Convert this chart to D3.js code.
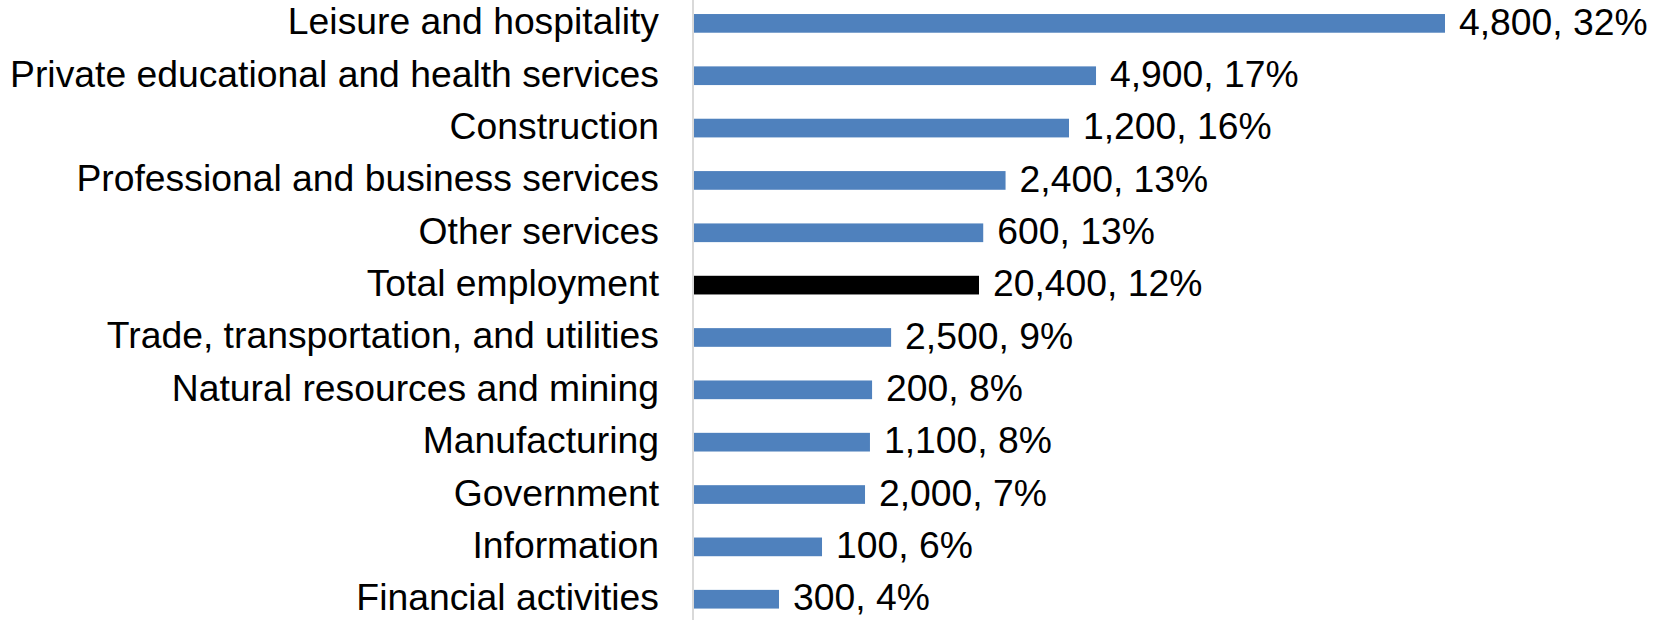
<!DOCTYPE html>
<html>
<head>
<meta charset="utf-8">
<script src="https://cdn.jsdelivr.net/npm/d3@7"></script>
<style>
  html, body { margin: 0; padding: 0; background: #ffffff; }
  svg { display: block; }
  text { font-family: "Liberation Sans", Arial, sans-serif; fill: #000000; }
</style>
</head>
<body>
<svg id="chart" width="1667" height="620"></svg>
<script>
// Data (top to bottom)
const categories = [
  "Leisure and hospitality",
  "Private educational and health services",
  "Construction",
  "Professional and business services",
  "Other services",
  "Total employment",
  "Trade, transportation, and utilities",
  "Natural resources and mining",
  "Manufacturing",
  "Government",
  "Information",
  "Financial activities"
];
// percent change (bar length)
const percentValues = [32.0, 17.15, 16.0, 13.3, 12.35, 12.17, 8.43, 7.62, 7.53, 7.32, 5.49, 3.66];
// job counts shown in labels
const jobCounts = [4800, 4900, 1200, 2400, 600, 20400, 2500, 200, 1100, 2000, 100, 300];
// rounded percent shown in labels
const percentLabels = ["32%", "17%", "16%", "13%", "13%", "12%", "9%", "8%", "8%", "7%", "6%", "4%"];
const highlightCategory = "Total employment";

const svg = d3.select("#chart");
const fontSize = 37.3;

const x = d3.scaleLinear().domain([0, 40]).range([693, 693 + 40 * 23.5]);
const y = d3.scaleBand()
  .domain(categories)
  .range([-2.8, 625.4])
  .paddingInner(0.643)
  .paddingOuter(0.3215);

const fmt = d3.format(",");

// bars
svg.append("g").selectAll("rect")
  .data(categories)
  .join("rect")
  .attr("x", x(0))
  .attr("y", d => y(d))
  .attr("width", (d, i) => x(percentValues[i]) - x(0))
  .attr("height", y.bandwidth())
  .attr("fill", d => d === highlightCategory ? "#000000" : "#4f81bd");

// vertical axis line
const yAxis = d3.axisLeft(y).tickSize(0).tickFormat("");
const axisG = svg.append("g").attr("transform", `translate(${x(0)},0)`).call(yAxis);
axisG.select(".domain").attr("stroke", "#d9d9d9").attr("stroke-width", 2)
  .attr("d", `M0,0V620`);

// category labels
svg.append("g").selectAll("text")
  .data(categories)
  .join("text")
  .attr("x", 659)
  .attr("y", d => y(d) + y.bandwidth() / 2 + 11)
  .attr("text-anchor", "end")
  .attr("font-size", fontSize)
  .text(d => d);

// value labels
svg.append("g").selectAll("text")
  .data(categories)
  .join("text")
  .attr("x", (d, i) => x(percentValues[i]) + 14)
  .attr("y", d => y(d) + y.bandwidth() / 2 + 11.2)
  .attr("font-size", fontSize)
  .text((d, i) => `${fmt(jobCounts[i])}, ${percentLabels[i]}`);
</script>
</body>
</html>
